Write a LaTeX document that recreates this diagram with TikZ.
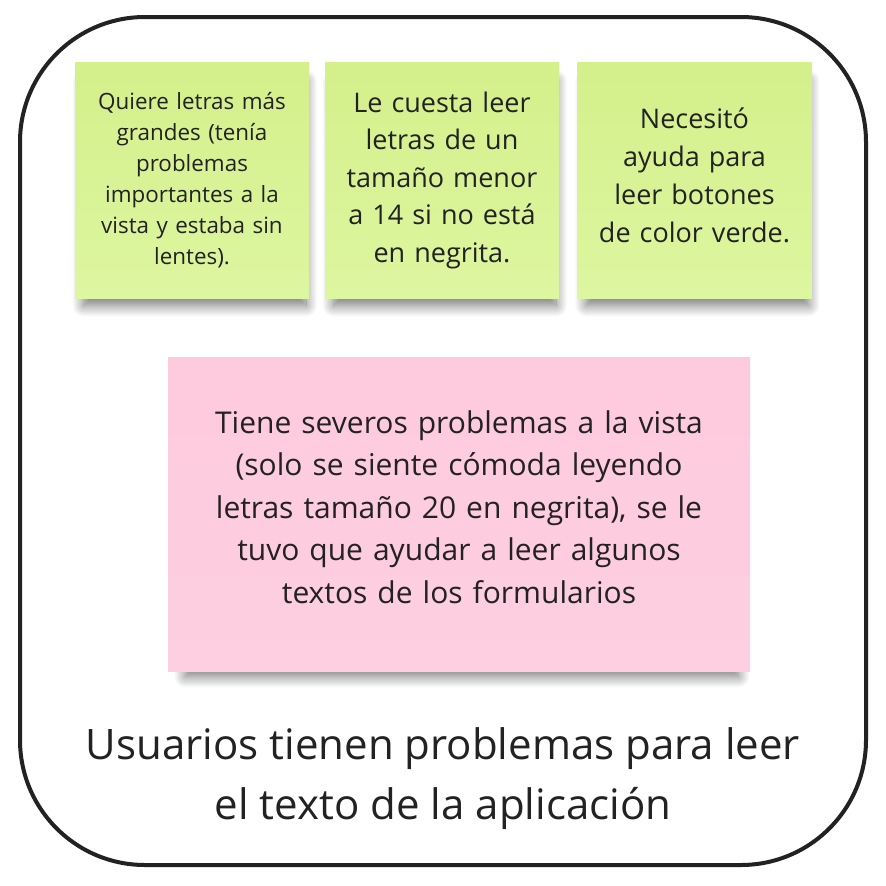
\documentclass[tikz,border=0pt]{standalone}
\usepackage{fontspec}
\setmainfont{Open Sans}
\usepackage{tikz}
\usetikzlibrary{shadows.blur}

\definecolor{notegreen}{HTML}{D3F08B}
\definecolor{notegreenlt}{HTML}{DDF6A0}
\definecolor{notepink}{HTML}{FECADE}
\definecolor{notepinklt}{HTML}{FDCFE0}
\definecolor{inkgray}{HTML}{222222}

\tikzset{
  sticky/.style={inner sep=0pt,
    blur shadow={shadow xshift=3pt, shadow yshift=-14pt, shadow scale=0.95,
      shadow opacity=55, shadow blur radius=12pt, shadow blur steps=14}},
  greennote/.style={sticky, top color=notegreen, bottom color=notegreenlt,
    minimum width=234pt, minimum height=236pt},
  pinknote/.style={sticky, top color=notepink, bottom color=notepinklt,
    minimum width=582pt, minimum height=314pt},
  notetext/.style={inner sep=0pt, align=center, text=inkgray},
}

\begin{document}
\begin{tikzpicture}[x=1pt, y=-1pt]
  \useasboundingbox (0,0) rectangle (886,886);
  % marco exterior
  \draw[inkgray, line width=4pt, rounded corners=125pt] (20,17) rectangle (866,865);
  % notas verdes
  \node[greennote] (letras) at (192,180) {};
  \node[greennote] (tamano) at (442,180) {};
  \node[greennote] (verde) at (694.5,180) {};
  \node[notetext, text width=220pt, font=\fontsize{22.4pt}{31pt}\selectfont] (letrastxt) at (letras.center)
    {Quiere letras más\\grandes (tenía\\problemas\\importantes a la\\vista y estaba sin\\lentes).};
  \node[notetext, text width=220pt, font=\fontsize{27pt}{37.5pt}\selectfont] (tamanotxt) at (tamano.center)
    {Le cuesta leer\\letras de un\\tamaño menor\\a 14 si no está\\en negrita.};
  \node[notetext, text width=220pt, font=\fontsize{27pt}{38pt}\selectfont] (verdetxt) at ([yshift=5pt]verde.center)
    {Necesitó\\ayuda para\\leer botones\\de color verde.};
  % nota rosa
  \node[pinknote] (severo) at (459,514) {};
  \node[notetext, text width=560pt, font=\fontsize{30pt}{42.5pt}\selectfont] (severotxt) at ([yshift=7pt]severo.center)
    {Tiene severos problemas a la vista\\(solo se siente cómoda leyendo\\letras tamaño 20 en negrita), se le\\tuvo que ayudar a leer algunos\\textos de los formularios};
  % titulo
  \node[notetext, font=\fontsize{42pt}{60pt}\selectfont] (titulo) at (443,779)
    {Usuarios tienen problemas para leer\\el texto de la aplicación};
\end{tikzpicture}
\end{document}
